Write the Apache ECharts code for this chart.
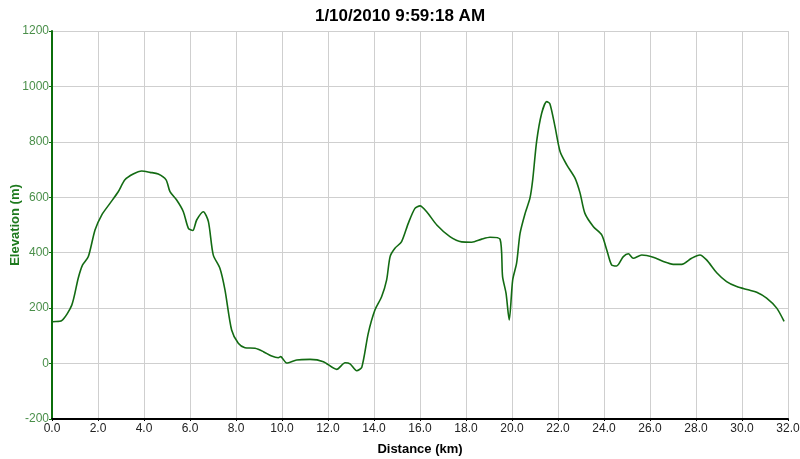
<!DOCTYPE html>
<html>
<head>
<meta charset="utf-8">
<script src="https://cdn.jsdelivr.net/npm/echarts@6/dist/echarts.min.js"></script>
<style>html,body{margin:0;padding:0;background:#fff}#c{width:800px;height:459px}</style>
</head>
<body>
<div id="c"></div>
<script>
const titleText = "1/10/2010 9:59:18 AM";
const xName = "Distance (km)";
const yName = "Elevation (m)";
const distanceKm = [0.0,0.03,0.42,0.86,1.14,1.33,1.58,1.87,2.16,2.52,2.88,3.17,3.53,3.9,4.26,4.62,4.96,5.13,5.42,5.71,5.93,6.12,6.29,6.58,6.8,7.01,7.3,7.52,7.81,8.1,8.39,8.83,9.19,9.55,9.84,9.94,10.2,10.64,11.22,11.8,12.38,12.74,12.96,13.25,13.47,13.75,14.04,14.33,14.55,14.7,14.91,15.2,15.49,15.78,16.0,16.29,16.73,17.3,17.81,18.25,18.68,19.04,19.48,19.59,19.74,19.88,20.03,20.2,20.35,20.57,20.78,20.9,21.07,21.29,21.51,21.65,21.87,22.09,22.38,22.74,22.96,23.17,23.54,23.9,24.12,24.33,24.55,24.84,25.06,25.27,25.64,26.14,26.58,27.01,27.38,27.81,28.17,28.46,28.9,29.33,29.77,30.27,30.64,31.07,31.51,31.83];
const elevationM = [148,151,155,211,308,356,386,482,536,578,620,663,684,695,690,684,663,620,590,548,488,480,518,548,512,392,344,266,121,73,57,55,43,27,21,25,2,13,15,7,-21,3,-1,-26,-13,109,193,241,302,386,416,440,506,560,569,548,500,458,439,438,449,456,449,314,254,157,302,362,470,542,597,663,801,903,945,937,855,765,717,669,615,542,494,464,410,356,352,386,396,380,392,384,368,358,358,380,392,374,328,296,278,266,257,236,200,152];
const xMin = 0, xMax = 32, xStep = 2;
const yMin = -200, yMax = 1200, yStep = 200;

const FONT = 'Liberation Sans, Arial, sans-serif';
const chart = echarts.init(document.getElementById('c'), null, {renderer: 'canvas'});
chart.setOption({
  animation: false,
  backgroundColor: '#ffffff',
  title: {
    text: titleText, left: 'center', top: 3,
    textStyle: {fontFamily: FONT, fontSize: 17, fontWeight: 'bold', color: '#000'}
  },
  grid: {left: 52, right: 12, top: 31, bottom: 40, containLabel: false, outerBoundsMode: 'none'},
  xAxis: {
    type: 'value', min: xMin, max: xMax, interval: xStep,
    name: xName, nameLocation: 'middle', nameGap: 24, nameMoveOverlap: false,
    nameTextStyle: {fontFamily: FONT, fontSize: 13, fontWeight: 'bold', color: '#000'},
    axisLine: {show: true, onZero: false, lineStyle: {color: '#000', width: 2}},
    axisTick: {show: true, length: 2, lineStyle: {color: '#000'}},
    axisLabel: {formatter: v => v.toFixed(1), fontFamily: FONT, fontSize: 12, color: '#222', margin: 4},
    splitLine: {show: true, lineStyle: {color: '#cfcfcf', width: 1}}
  },
  yAxis: {
    type: 'value', min: yMin, max: yMax, interval: yStep,
    name: yName, nameLocation: 'middle', nameGap: 30, nameRotate: 90, nameMoveOverlap: false,
    nameTextStyle: {fontFamily: FONT, fontSize: 13, fontWeight: 'bold', color: '#1e7a1e'},
    axisLine: {show: true, lineStyle: {color: '#0b6e0b', width: 2}},
    axisTick: {show: true, length: 3, lineStyle: {color: '#0b6e0b', width: 1}},
    axisLabel: {formatter: v => String(v), fontFamily: FONT, fontSize: 12, color: '#4a8f4a', margin: 3},
    splitLine: {show: true, lineStyle: {color: '#cfcfcf', width: 1}}
  },
  series: [{
    type: 'line',
    data: distanceKm.map((d, i) => [d, elevationM[i]]),
    showSymbol: false,
    smooth: 0.25,
    lineStyle: {color: '#136b13', width: 1.6}
  }]
});
</script>
</body>
</html>
